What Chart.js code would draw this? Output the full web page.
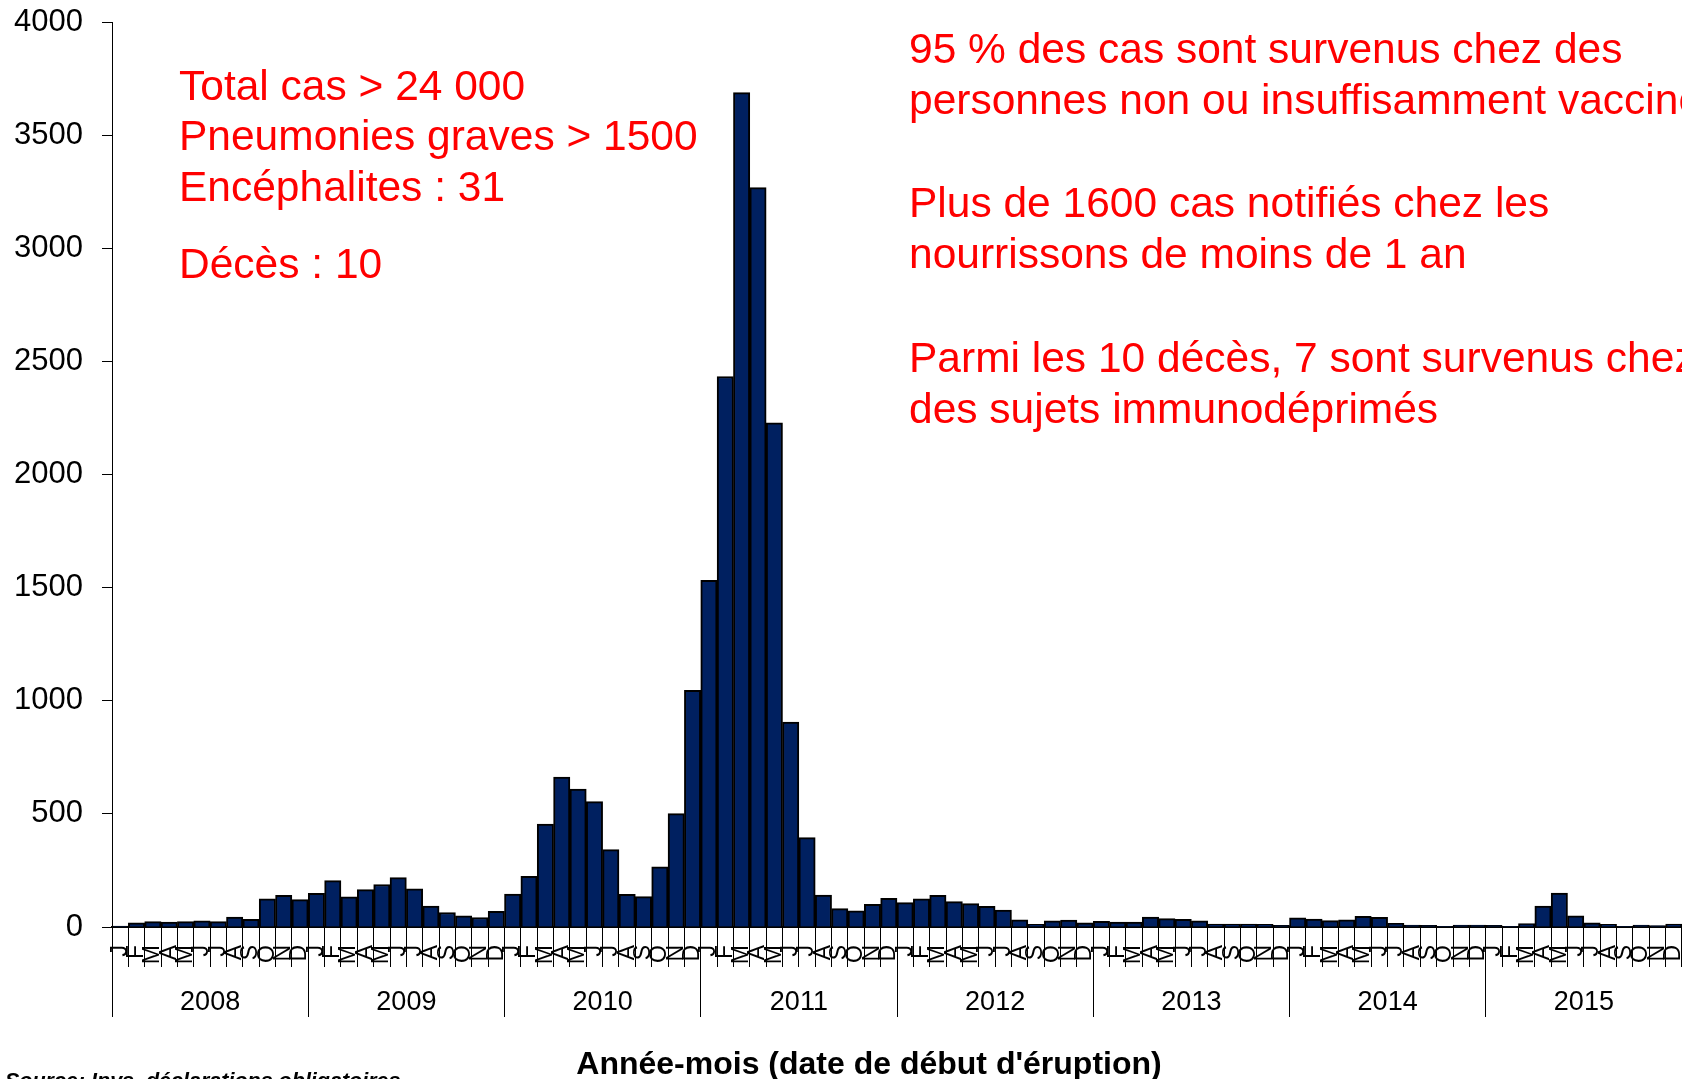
<!DOCTYPE html>
<html lang="fr">
<head>
<meta charset="utf-8">
<title>Rougeole - cas par mois</title>
<script src="https://cdn.jsdelivr.net/npm/chart.js@4/dist/chart.umd.min.js"></script>
<style>
    html, body { margin: 0; padding: 0; background: #fff; overflow: hidden; }
    #chart { display: block; }
</style>
</head>
<body>
<canvas id="chart" width="1682" height="1079"></canvas>
<script>
// Monthly cases by year
const years = ['2008', '2009', '2010', '2011', '2012', '2013', '2014', '2015'];
const monthLetters = ['J', 'F', 'M', 'A', 'M', 'J', 'J', 'A', 'S', 'O', 'N', 'D'];

const cases2008 = [4, 18, 24, 22, 24, 27, 24, 44, 34, 124, 140, 121];
const cases2009 = [149, 205, 133, 165, 188, 218, 169, 93, 64, 49, 42, 69];
const cases2010 = [146, 224, 455, 663, 610, 554, 342, 144, 134, 266, 501, 1046];
const cases2011 = [1532, 2433, 3688, 3268, 2228, 906, 395, 141, 81, 71, 100, 127];
const cases2012 = [108, 124, 140, 112, 103, 91, 75, 32, 12, 27, 31, 18];
const cases2013 = [25, 22, 22, 44, 37, 34, 27, 13, 13, 13, 12, 7];
const cases2014 = [40, 35, 28, 32, 47, 43, 16, 9, 7, 3, 9, 9];
const cases2015 = [7, 3, 15, 93, 150, 49, 18, 12, 3, 9, 6, 13];

const yTicks = [0, 500, 1000, 1500, 2000, 2500, 3000, 3500, 4000];

const leftNotes = ['Total cas > 24 000', 'Pneumonies graves > 1500', 'Encéphalites : 31', 'Décès : 10'];
const rightNotes = [
    '95 % des cas sont survenus chez des',
    'personnes non ou insuffisamment vaccinées',
    'Plus de 1600 cas notifiés chez les',
    'nourrissons de moins de 1 an',
    'Parmi les 10 décès, 7 sont survenus chez',
    'des sujets immunodéprimés'
];
const xTitle = "Année-mois (date de début d'éruption)";
const sourceText = 'Source: Invs, déclarations obligatoires';

document.addEventListener('DOMContentLoaded', () => {
    const FONT = '"Liberation Sans", Arial, sans-serif';
    Chart.defaults.font.family = FONT;
    Chart.defaults.color = '#000';

    const allCases = [].concat(cases2008, cases2009, cases2010, cases2011,
        cases2012, cases2013, cases2014, cases2015);
    const monthLabels = years.flatMap(() => monthLetters);

    // no automatic label padding around the plot
    const noPad = scale => {
        scale.paddingTop = 0;
        scale.paddingBottom = 0;
        scale.paddingLeft = 0;
        scale.paddingRight = 0;
    };

    // Red notes, axis title and source line
    const notesPlugin = {
        id: 'notes',
        afterDraw(chart) {
            const ctx = chart.ctx;
            ctx.save();
            ctx.textBaseline = 'alphabetic';
            ctx.fillStyle = '#ff0000';
            ctx.font = '42.5px ' + FONT;
            const leftY = [100, 150, 201, 278];
            leftNotes.forEach((t, i) => ctx.fillText(t, 179, leftY[i]));
            const rightY = [63, 114, 217, 268, 372, 423];
            rightNotes.forEach((t, i) => ctx.fillText(t, 909, rightY[i]));

            ctx.fillStyle = '#000';
            ctx.font = 'bold 32px ' + FONT;
            ctx.textAlign = 'center';
            ctx.fillText(xTitle, 869, 1074);

            ctx.textAlign = 'left';
            ctx.font = 'italic bold 21.5px ' + FONT;
            ctx.fillText(sourceText, 5, 1088);
            ctx.restore();
        }
    };

    const chartCanvas = document.getElementById('chart');
    new Chart(chartCanvas, {
        type: 'bar',
        data: {
            labels: monthLabels,
            datasets: [{
                label: 'Cas',
                data: allCases,
                xAxisID: 'x',
                yAxisID: 'y',
                backgroundColor: '#002060',
                borderColor: '#000',
                borderWidth: 2,
                borderSkipped: 'start',
                barPercentage: 1,
                categoryPercentage: 1
            }]
        },
        options: {
            responsive: false,
            animation: false,
            devicePixelRatio: 1,
            layout: {
                autoPadding: false,
                padding: { top: 22, left: 0, right: 0, bottom: 0 }
            },
            plugins: {
                legend: { display: false },
                tooltip: { enabled: false }
            },
            scales: {
                y: {
                    min: 0,
                    max: 4000,
                    afterFit: scale => { scale.width = 112; noPad(scale); },
                    afterBuildTicks: scale => {
                        scale.ticks = yTicks.map(v => ({ value: v }));
                    },
                    ticks: {
                        font: { size: 31 },
                        padding: 19,
                        callback: value => String(value)
                    },
                    grid: {
                        drawOnChartArea: false,
                        tickLength: 10,
                        color: '#000'
                    },
                    border: { display: true, color: '#000', width: 1 }
                },
                x: {
                    type: 'category',
                    position: 'bottom',
                    weight: 0,
                    z: 1,
                    offset: true,
                    afterFit: scale => { scale.height = 40; noPad(scale); },
                    ticks: {
                        autoSkip: false,
                        minRotation: 90,
                        maxRotation: 90,
                        font: { size: 23 },
                        padding: -22
                    },
                    grid: {
                        offset: true,
                        drawOnChartArea: false,
                        tickLength: 40,
                        color: '#000'
                    },
                    border: { display: true, color: '#000', width: 2 }
                },
                year: {
                    type: 'category',
                    axis: 'x',
                    position: 'bottom',
                    weight: 1,
                    labels: years,
                    offset: true,
                    afterFit: scale => { scale.height = 112; noPad(scale); },
                    ticks: {
                        font: { size: 27 },
                        padding: -31
                    },
                    grid: {
                        offset: true,
                        drawOnChartArea: false,
                        tickLength: 50,
                        color: '#000'
                    },
                    border: { display: false }
                }
            }
        },
        plugins: [notesPlugin]
    });
});
</script>
</body>
</html>
